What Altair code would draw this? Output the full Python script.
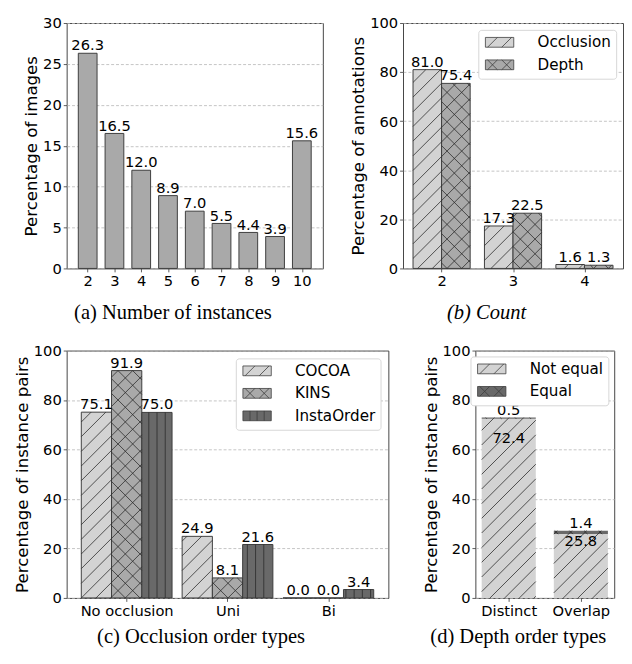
import math
import json
import altair as alt
import pandas as pd

# ---------------- data ----------------
a_cats = [2, 3, 4, 5, 6, 7, 8, 9, 10]
a_vals = [26.3, 16.5, 12.0, 8.9, 7.0, 5.5, 4.4, 3.9, 15.6]

b_cats = [2, 3, 4]
b_series = ["Occlusion", "Depth"]
b_occlusion = [81.0, 17.3, 1.6]
b_depth = [75.4, 22.5, 1.3]

c_cats = ["No occlusion", "Uni", "Bi"]
c_series = ["COCOA", "KINS", "InstaOrder"]
c_cocoa = [75.1, 24.9, 0.0]
c_kins = [91.9, 8.1, 0.0]
c_instaorder = [75.0, 21.6, 3.4]

d_cats = ["Distinct", "Overlap"]
d_series = ["Not equal", "Equal"]
d_not_equal = [72.4, 25.8]
d_equal = [0.5, 1.4]

a_yticks = [0, 5, 10, 15, 20, 25, 30]
pct_yticks = [0, 20, 40, 60, 80, 100]

# ---------------- style ----------------
FONT = "DejaVu Sans"
SERIF = "Liberation Serif"
EDGE = "#3c3c3c"
HATCH = "#2a2a2a"
LIGHT = "#d3d3d3"
MID = "#a9a9a9"
DARK = "#696969"
TICK_FS = 15
LABEL_FS = 15
TITLE_FS = 17
CAP_FS = 21

P_RECT = "M-2.9,-1H2.9V1H-2.9Z"
P_SLASH = P_RECT + "M-2.45,1L-0.45,-1M0.45,1L2.45,-1"
P_CROSS = P_SLASH + "M-2.45,-1L-0.45,1M0.45,-1L2.45,1"
P_VERT = P_RECT + "M-1.45,-1V1M0,-1V1M1.45,-1V1"
PATHS = {"/": P_SLASH, "x": P_CROSS, "|": P_VERT}
SPACING = {"/": 15.0, "x": 15.0, "|": 8.4}


def grouped(positions, series, values_list, bw):
    rows = []
    n = len(series)
    for i, p in enumerate(positions):
        for j, (s, vals) in enumerate(zip(series, values_list)):
            c = p + (j - (n - 1) / 2) * bw
            rows.append(dict(series=s, xa=c - bw / 2, xb=c + bw / 2, xc=c,
                             y0=0.0, y1=vals[i], v=vals[i]))
    return pd.DataFrame(rows)


def stacked(positions, series, values_list, bw):
    rows = []
    for i, p in enumerate(positions):
        base = 0.0
        for s, vals in zip(series, values_list):
            rows.append(dict(series=s, xa=p - bw / 2, xb=p + bw / 2, xc=p,
                             y0=base, y1=base + vals[i], v=vals[i]))
            base += vals[i]
    return pd.DataFrame(rows)


def hatch_df(df, hatches, W, H, XD, YD):
    sx = W / (XD[1] - XD[0])
    sy = H / (YD[1] - YD[0])
    out = []
    for _, r in df.iterrows():
        kind = hatches[r["series"]]
        if kind is None:
            continue
        sp = SPACING[kind]
        X0 = (r["xa"] - XD[0]) * sx
        X1 = (r["xb"] - XD[0]) * sx
        Y0 = r["y0"] * sy
        Y1 = r["y1"] * sy
        if Y1 - Y0 <= 0:
            continue
        segs = []
        if kind in ("/", "x"):
            for k in range(math.ceil((Y0 - X1) / sp), math.floor((Y1 - X0) / sp) + 1):
                c = k * sp
                xs = max(X0, Y0 - c)
                xe = min(X1, Y1 - c)
                if xe - xs > 0.2:
                    segs.append((xs, xs + c, xe, xe + c))
        if kind == "x":
            for k in range(math.ceil((Y0 + X0) / sp), math.floor((Y1 + X1) / sp) + 1):
                c = k * sp
                xs = max(X0, c - Y1)
                xe = min(X1, c - Y0)
                if xe - xs > 0.2:
                    segs.append((xs, c - xs, xe, c - xe))
        if kind == "|":
            for k in range(math.ceil(X0 / sp), math.floor(X1 / sp) + 1):
                X = k * sp
                if X0 + 1 < X < X1 - 1:
                    segs.append((X, Y0, X, Y1))
        for (p1, q1, p2, q2) in segs:
            out.append(dict(hx=XD[0] + p1 / sx, hy=q1 / sy,
                            hx2=XD[0] + p2 / sx, hy2=q2 / sy))
    return pd.DataFrame(out)


def make_panel(df, W, H, XD, YD, yticks, ytitle, xvals, xlabels, series, colors,
               hatches, bar_stroke, inside_labels=False, legend=None, title=None,
               title_style="normal", title_offset=10):
    xs = alt.Scale(domain=XD, nice=False, zero=False)
    ys = alt.Scale(domain=YD, nice=False, zero=False)
    xaxis_kw = dict(values=xvals, title=None, grid=False, format="d")
    if xlabels is not None:
        xaxis_kw["labelExpr"] = json.dumps(xlabels) + "[datum.value]"
    xaxis = alt.Axis(**xaxis_kw)
    yaxis = alt.Axis(values=yticks, title=ytitle, grid=True, format="d", titlePadding=2)
    cs = alt.Scale(domain=series, range=colors)

    def X(f):
        return alt.X(f, scale=xs, axis=xaxis)

    def Y(f):
        return alt.Y(f, scale=ys, axis=yaxis)

    bar_kw = dict(strokeWidth=1)
    if bar_stroke:
        bar_kw["stroke"] = EDGE
    else:
        bar_kw["strokeWidth"] = 0
    bars = alt.Chart(df).mark_bar(**bar_kw).encode(
        x=X("xa:Q"), x2="xb:Q", y=Y("y1:Q"), y2="y0:Q",
        fill=alt.Fill("series:N", scale=cs, legend=legend),
    )
    layers = [bars]

    hd = hatch_df(df, hatches, W, H, XD, YD)
    if len(hd):
        layers.append(alt.Chart(hd).mark_rule(color=HATCH, strokeWidth=0.8).encode(
            x=X("hx:Q"), x2="hx2:Q", y=Y("hy:Q"), y2="hy2:Q"))

    tkw = dict(font=FONT, fontSize=LABEL_FS, color="black")
    if inside_labels:
        top = df[df["series"] == series[-1]]
        inner = df[df["series"] == series[0]]
        layers.append(alt.Chart(top).mark_text(baseline="alphabetic", dy=-3, **tkw).encode(
            x=X("xc:Q"), y=Y("y1:Q"), text=alt.Text("v:Q", format=".1f")))
        layers.append(alt.Chart(inner).transform_calculate(ly="datum.y1 * 0.89").mark_text(
            baseline="middle", **tkw).encode(
            x=X("xc:Q"), y=Y("ly:Q"), text=alt.Text("v:Q", format=".1f")))
    else:
        layers.append(alt.Chart(df).mark_text(baseline="alphabetic", dy=-3, **tkw).encode(
            x=X("xc:Q"), y=Y("y1:Q"), text=alt.Text("v:Q", format=".1f")))

    if legend is not None:
        # invisible points placed on the bars themselves, used only to build the hatched legend
        shapes = [PATHS[hatches[s]] for s in series]
        layers.append(alt.Chart(df).mark_point(filled=True, opacity=0, size=100).encode(
            x=X("xc:Q"), y=Y("y0:Q"),
            fill=alt.Fill("series:N", scale=cs, legend=legend),
            shape=alt.Shape("series:N", scale=alt.Scale(domain=series, range=shapes), legend=legend),
            stroke=alt.Stroke("series:N", scale=alt.Scale(domain=series, range=[EDGE] * len(series)),
                              legend=legend),
        ))

    ch = alt.layer(*layers)
    props = dict(width=W, height=H)
    if title is not None:
        props["title"] = alt.TitleParams(title, orient="bottom", font=SERIF, fontSize=CAP_FS,
                                         fontWeight="normal", fontStyle=title_style,
                                         color="black", offset=title_offset,
                                         anchor="middle", frame="bounds")
    return ch.properties(**props)


def mk_legend(offset):
    return alt.Legend(title=None, orient="top-right", offset=offset, padding=5,
                      fillColor="white", strokeColor="#d6d6d6", cornerRadius=3,
                      labelFont=FONT, labelFontSize=15.5, labelColor="black",
                      symbolSize=100, symbolStrokeColor=EDGE, symbolStrokeWidth=0.8,
                      symbolOffset=9, labelOffset=31, rowPadding=6, symbolOpacity=1)


# ---------------- panel (a) ----------------
WA, HA = 262, 251
XDA = [1.215, 10.785]
dfa = grouped(a_cats, ["all"], [a_vals], 0.7)
pa = make_panel(dfa, WA, HA, XDA, [0, 30], a_yticks, "Percentage of images", a_cats, None,
                ["all"], [MID], {"all": None}, True, title="(a) Number of instances",
                title_offset=14)

# ---------------- panel (b) ----------------
WB, HB = 225, 251
XDB = [1.46, 4.54]
dfb = grouped(b_cats, b_series, [b_occlusion, b_depth], 0.4)
pb = make_panel(dfb, WB, HB, XDB, [0, 100], pct_yticks, "Percentage of annotations", b_cats, None,
                b_series, [LIGHT, MID], {"Occlusion": "/", "Depth": "x"}, True,
                legend=mk_legend(7), title="(b) Count", title_style="italic", title_offset=14)

# ---------------- panel (c) ----------------
WC, HC = 329, 253
XDC = [-0.595, 2.595]
c_pos = list(range(len(c_cats)))
dfc = grouped(c_pos, c_series, [c_cocoa, c_kins, c_instaorder], 0.3)
pc = make_panel(dfc, WC, HC, XDC, [0, 100], pct_yticks, "Percentage of instance pairs", c_pos, c_cats,
                c_series, [LIGHT, MID, DARK], {"COCOA": "/", "KINS": "x", "InstaOrder": "|"}, True,
                legend=mk_legend(8), title="(c) Occlusion order types", title_offset=9)

# ---------------- panel (d) ----------------
WD, HD = 142, 253
XDD = [-0.4625, 1.4625]
d_pos = list(range(len(d_cats)))
dfd = stacked(d_pos, d_series, [d_not_equal, d_equal], 0.75)
pd_ = make_panel(dfd, WD, HD, XDD, [0, 100], pct_yticks, "Percentage of instance pairs", d_pos, d_cats,
                 d_series, [LIGHT, DARK], {"Not equal": "/", "Equal": "x"}, False,
                 inside_labels=True, legend=mk_legend(6), title="(d) Depth order types",
                 title_offset=9)

IND = dict(fill="independent", shape="independent", stroke="independent",
           x="independent", y="independent")

row1 = alt.hconcat(pa, pb, spacing=26).resolve_scale(**IND)
row2 = alt.hconcat(pc, pd_, spacing=33).resolve_scale(**IND)

chart = alt.vconcat(row1, row2, spacing=20).resolve_scale(**IND).properties(
    padding={"left": 5, "top": 0, "right": 0, "bottom": 0}
).configure_axis(
    labelFont=FONT, labelFontSize=TICK_FS, labelColor="black",
    titleFont=FONT, titleFontSize=TITLE_FS, titleFontWeight="normal", titleColor="black",
    tickColor="#333333", tickSize=3.5, tickWidth=0.8, domain=False, labelPadding=2,
    gridColor="#b5b5b5", gridDash=[3, 2], gridWidth=0.8,
).configure_view(stroke="#444444", strokeWidth=1)

chart.save("out.html", embed_options={"renderer": "svg", "actions": False})
